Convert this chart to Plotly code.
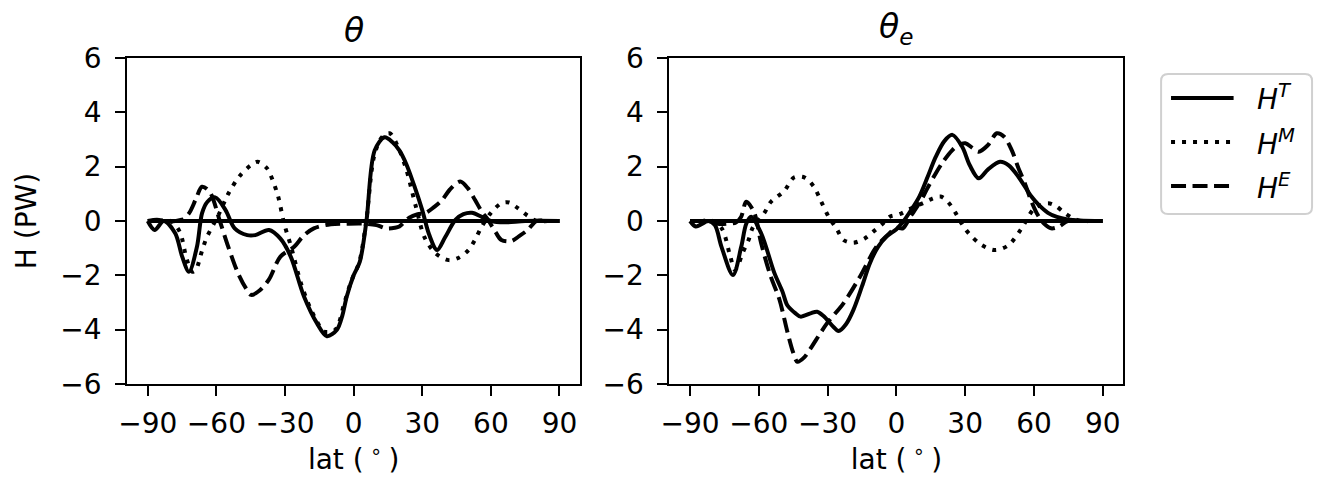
import plotly.graph_objects as go

# ---------------- data ----------------
# Left panel (theta)
lat_T_L = [-90, -87, -83, -78, -75, -72, -68.5, -66.3, -64, -60.5, -56, -52, -46.5, -43, -37, -32, -27.5, -21.7, -16, -11.7,
           -7.3, -5, -3, 0, 2.7, 5.6, 9.2, 13.5, 17, 20, 23, 26.5, 30, 33, 36.5, 40, 44.5, 48, 51.7, 56, 60, 66, 75, 90]
HT_L = [0, -0.33, 0, -0.45, -1.3, -1.87, -0.95, 0.28, 0.7, 0.87, 0.4, -0.27, -0.52, -0.52, -0.33, -0.65, -1.31, -2.78, -3.77, -4.24,
        -4.0, -3.5, -2.78, -2.0, -1.5, 0.0, 2.6, 3.08, 2.9, 2.6, 2.1, 1.3, 0.4, -0.5, -1.07, -0.6, 0.04, 0.25, 0.3, 0.15, 0.0,
        -0.05, 0.0, 0.0]

lat_M_L = [-90, -85, -80, -76, -73, -70.5, -69, -66.3, -64.2, -59.1, -54.8, -49.8, -45, -42, -38, -36, -33, -30.4, -27.5, -23,
           -19, -16, -13, -8, -4, -1, 2.5, 5.5, 9, 12.5, 15.7, 19, 23, 27.2, 31, 35.8, 41.6, 46, 50.2, 53, 56, 60, 64.6, 68,
           71.8, 76, 80, 85, 90]
HM_L = [0, 0, 0, -0.4, -1.4, -1.87, -1.8, -1.1, -0.6, 0.22, 1.0, 1.66, 2.05, 2.18, 1.95, 1.63, 0.9, -0.09, -0.9, -2.3,
        -3.2, -3.7, -4.07, -4.0, -3.0, -2.2, -1.5, 0.0, 2.4, 3.1, 3.23, 2.8, 1.9, 0.53, -0.6, -1.19, -1.44, -1.35, -1.07, -0.7,
        -0.21, 0.3, 0.65, 0.68, 0.47, 0.2, 0.0, 0.0, 0.0]

lat_E_L = [-90, -86, -82, -78, -75, -72, -69, -66.3, -62.9, -58.5, -54.8, -50.5, -46.9, -44.8, -41, -37, -32, -26, -22, -17.4,
           -10, -3, 5, 10, 14.2, 18, 20, 24.3, 28, 31.5, 35, 38.7, 42, 46.6, 50, 53.1, 56, 58.8, 62, 64.6, 68.9, 72.5, 76.1,
           80, 85, 90]
HE_L = [0, 0.05, 0, 0, 0.05, 0.28, 0.8, 1.26, 1.07, 0.0, -0.95, -1.93, -2.5, -2.72, -2.55, -2.15, -1.31, -0.95, -0.55, -0.27,
        -0.12, -0.1, -0.1, -0.15, -0.27, -0.25, -0.2, 0.12, 0.25, 0.3, 0.5, 0.77, 1.15, 1.45, 1.2, 0.77, 0.35, 0.04, -0.4, -0.7,
        -0.74, -0.55, -0.33, 0.0, 0.0, 0.0]

# Right panel (theta_e)
lat_T_R = [-90, -87.5, -82, -79.2, -76.3, -71.3, -67.7, -65.5, -63.4, -59, -53.3, -49.7, -47.6, -44, -41.8, -37.5, -34.6, -31.8,
           -28, -25.2, -22, -18.8, -15, -11.6, -8, -4.4, 0, 2.8, 6, 10, 13.5, 17.2, 21, 24.4, 28.7, 32, 35.9, 40, 45.2, 49,
           53.2, 58.9, 62, 66.1, 70, 74.7, 80, 90]
HT_R = [0, -0.2, 0, -0.15, -0.95, -1.99, -0.95, -0.1, 0.16, -0.45, -1.9, -2.6, -3.1, -3.4, -3.52, -3.4, -3.34, -3.5,
        -3.85, -4.05, -3.8, -3.28, -2.4, -1.56, -0.95, -0.58, -0.3, -0.04, 0.35, 0.9, 1.6, 2.37, 2.95, 3.17, 2.73, 2.05,
        1.57, 1.9, 2.18, 2.05, 1.63, 0.9, 0.6, 0.3, 0.15, 0.06, 0.02, 0]

lat_M_R = [-90, -85, -80, -76, -72.5, -70.5, -69.4, -67.2, -64.5, -62.7, -57.6, -54.8, -49, -44.7, -40, -36, -33, -29.6, -26,
           -23.1, -18.8, -14, -10.1, -6, -2.9, 1.4, 6, 11.4, 15, 19.3, 22.5, 25.8, 28.5, 31.6, 37.3, 43.1, 48.9, 54.6, 60.3,
           66.1, 69.5, 73.3, 77, 80.5, 85, 90]
HM_R = [0, 0, 0, -0.3, -1.3, -1.8, -1.7, -1.2, -0.7, -0.25, 0.3, 0.7, 1.1, 1.6, 1.6, 1.26, 0.75, 0.16, -0.3,
        -0.7, -0.8, -0.65, -0.39, -0.1, 0.16, 0.25, 0.45, 0.65, 0.8, 0.9, 0.7, 0.3, -0.1, -0.46, -0.89, -1.07, -0.89, -0.27, 0.47,
        0.65, 0.55, 0.3, 0.1, 0.0, 0.0, 0.0]

lat_E_R = [-90, -86, -82, -78, -74, -70, -67.7, -65.5, -62, -59, -55, -51, -47.5, -45, -43.2, -40, -37.5, -30.3, -23.1, -15.9,
           -8.7, -3, 0, 2.8, 6, 10, 13.5, 17.2, 20.5, 24.4, 27, 30.1, 33, 35.9, 40, 43.8, 47, 50.3, 53, 56, 59, 61.8, 64.5,
           67.5, 71, 74.7, 80, 90]
HE_R = [0, 0, 0, -0.1, -0.1, -0.05, 0.16, 0.71, 0.3, -0.82, -2.0, -2.9, -4.1, -4.85, -5.18, -5.0, -4.7, -3.77, -3.03, -2.05,
        -0.95, -0.45, -0.25, -0.27, 0.15, 0.65, 1.2, 1.76, 2.2, 2.61, 2.8, 2.86, 2.7, 2.55, 2.8, 3.23, 3.1, 2.61, 2.0, 1.39,
        0.7, 0.2, -0.1, -0.27, -0.2, 0.0, 0.0, 0.0]

zero_lat = [-90, 90]
zero_H = [0, 0]

titles = ["<i>θ</i>", "<i>θ</i><sub><i>e</i></sub>"]
names = ["<i>H</i><sup><i>T</i></sup>", "<i>H</i><sup><i>M</i></sup>", "<i>H</i><sup><i>E</i></sup>"]
xticks = [-90, -60, -30, 0, 30, 60, 90]
yticks = [-6, -4, -2, 0, 2, 4, 6]

# ---------------- figure ----------------
FONT = "DejaVu Sans"
FS = 28
LW = 4
DASHES = ["solid", "4px,7px", "15px,6.5px"]

W, H = 1321, 480
MT, MB = 58, 96
PH = H - MT - MB
L1, R1 = 119 / W, 575 / W
L2, R2 = 665 / W, 1122 / W


def px(xp):
    return xp / W


def py(yp):
    return (H - MB - yp) / PH


fig = go.Figure()

panels = [
    ("x", "y", [(lat_T_L, HT_L), (lat_M_L, HM_L), (lat_E_L, HE_L)]),
    ("x2", "y2", [(lat_T_R, HT_R), (lat_M_R, HM_R), (lat_E_R, HE_R)]),
]
for pi, (xa, ya, series) in enumerate(panels):
    fig.add_trace(go.Scatter(x=zero_lat, y=zero_H, mode="lines", xaxis=xa, yaxis=ya,
                             line=dict(color="black", width=LW), showlegend=False, hoverinfo="skip"))
    for si, (lx, hy) in enumerate(series):
        fig.add_trace(go.Scatter(x=lx, y=hy, mode="lines", xaxis=xa, yaxis=ya, name=names[si],
                                 line=dict(color="black", width=LW, dash=DASHES[si], shape="spline", smoothing=0.9),
                                 showlegend=False))

axis_common = dict(
    range=[-99, 99], tickvals=xticks, showline=True, linecolor="black", linewidth=2, mirror=True,
    ticks="outside", ticklen=10, tickwidth=2, tickcolor="black", showgrid=False, zeroline=False,
    tickfont=dict(family=FONT, size=FS, color="black"), ticklabelstandoff=3,
)
yaxis_common = dict(
    range=[-6, 6], tickvals=yticks, showline=True, linecolor="black", linewidth=2, mirror=True,
    ticks="outside", ticklen=10, tickwidth=2, tickcolor="black", showgrid=False, zeroline=False,
    tickfont=dict(family=FONT, size=FS, color="black"), domain=[0, 1], ticklabelstandoff=8,
)

# ---- legend drawn manually (matplotlib style box) ----
bx0, bx1, by0, by1 = 1160, 1312, 74, 214
r = 7
rx, ry = r / W, r / PH
X0, X1, Y0, Y1 = px(bx0), px(bx1), py(by1), py(by0)
box_path = (f"M{X0 + rx},{Y1} L{X1 - rx},{Y1} Q{X1},{Y1} {X1},{Y1 - ry} "
            f"L{X1},{Y0 + ry} Q{X1},{Y0} {X1 - rx},{Y0} L{X0 + rx},{Y0} Q{X0},{Y0} {X0},{Y0 + ry} "
            f"L{X0},{Y1 - ry} Q{X0},{Y1} {X0 + rx},{Y1} Z")
shapes = [dict(type="path", path=box_path, xref="paper", yref="paper",
               line=dict(color="#d0d0d0", width=2), fillcolor="white", layer="above")]
annotations = []
leg_rows = [98, 142, 186]
for si, yrow in enumerate(leg_rows):
    shapes.append(dict(type="line", xref="paper", yref="paper", x0=px(1170), x1=px(1233), y0=py(yrow), y1=py(yrow),
                       line=dict(color="black", width=LW, dash=DASHES[si]), layer="above"))
    annotations.append(dict(text=names[si], x=px(1255), y=py(yrow), xref="paper", yref="paper",
                            xanchor="left", yanchor="middle", showarrow=False,
                            font=dict(family=FONT, size=FS, color="black")))

for ti, (l, rr) in enumerate([(L1, R1), (L2, R2)]):
    annotations.append(dict(text=titles[ti], x=(l + rr) / 2, y=1.0, xref="paper", yref="paper", xanchor="center",
                            yanchor="bottom", yshift=6, showarrow=False,
                            font=dict(family=FONT, size=33, color="black")))

xtitle = "lat (<sup> ∘ </sup>)"
fig.update_layout(
    width=W, height=H,
    margin=dict(l=0, r=0, t=MT, b=MB),
    plot_bgcolor="white", paper_bgcolor="white",
    font=dict(family=FONT, size=FS, color="black"),
    showlegend=False,
    xaxis=dict(domain=[L1, R1], anchor="y",
               title=dict(text=xtitle, font=dict(family=FONT, size=FS), standoff=6), **axis_common),
    xaxis2=dict(domain=[L2, R2], anchor="y2",
                title=dict(text=xtitle, font=dict(family=FONT, size=FS), standoff=6), **axis_common),
    yaxis=dict(anchor="x", title=dict(text="H (PW)", font=dict(family=FONT, size=FS), standoff=16), **yaxis_common),
    yaxis2=dict(anchor="x2", **yaxis_common),
    shapes=shapes,
    annotations=annotations,
)

fig.write_html("out.html")
